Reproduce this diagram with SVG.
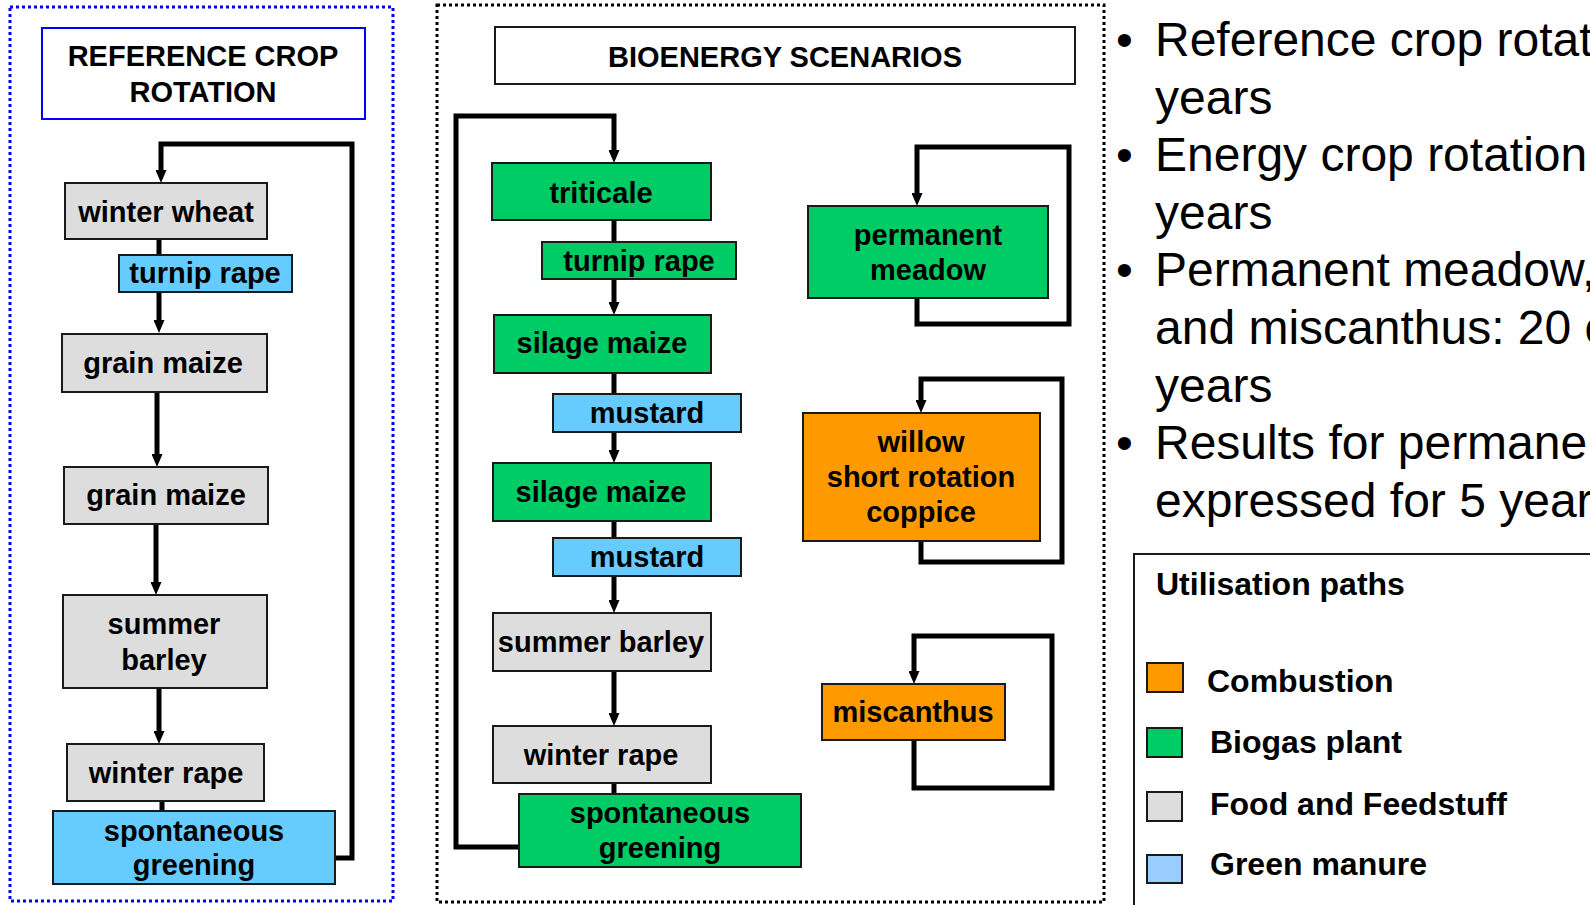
<svg xmlns="http://www.w3.org/2000/svg" width="1590" height="905" viewBox="0 0 1590 905">
<defs>
<style>
.box{stroke:#1a1a1a;stroke-width:2}
.gray{fill:#DDDDDD}
.green{fill:#00CC66}
.blue{fill:#66CCFF}
.orange{fill:#FF9900}
.lblue{fill:#99CCFF}
.t{font-family:"Liberation Sans",Arial,sans-serif;font-weight:bold;font-size:29px;fill:#000;text-anchor:middle}
.lg{font-family:"Liberation Sans",Arial,sans-serif;font-weight:bold;font-size:32px;fill:#000}
.bt{font-family:"Liberation Sans",Arial,sans-serif;font-size:48px;fill:#000}
.c{fill:none;stroke:#000;stroke-width:5;stroke-linejoin:miter;stroke-linecap:butt}
</style>
<marker id="ah" markerUnits="userSpaceOnUse" markerWidth="13" markerHeight="11" viewBox="0 0 13 11" refX="1" refY="5.5" orient="auto">
<path d="M0,0 L13,5.5 L0,11 Z" fill="#000"/>
</marker>
</defs>
<rect width="1590" height="905" fill="#fff"/>

<!-- panel frames -->
<rect id="ref-frame" x="10" y="7" width="383" height="894" fill="none" stroke="#0000FF" stroke-width="3" stroke-dasharray="3 3"/>
<rect id="bio-frame" x="437" y="5" width="667" height="897" fill="none" stroke="#000" stroke-width="3" stroke-dasharray="3 3"/>

<!-- connectors -->
<g id="connectors">
<path class="c" d="M159,239 V321" marker-end="url(#ah)"/>
<path class="c" d="M157,392 V455" marker-end="url(#ah)"/>
<path class="c" d="M156,524 V583" marker-end="url(#ah)"/>
<path class="c" d="M159,688 V732" marker-end="url(#ah)"/>
<path class="c" d="M162,801 V811"/>
<path class="c" d="M335,858 H352 V144 H161 V171" marker-end="url(#ah)"/>

<path class="c" d="M614,220 V303" marker-end="url(#ah)"/>
<path class="c" d="M614,373 V451" marker-end="url(#ah)"/>
<path class="c" d="M614,521 V601" marker-end="url(#ah)"/>
<path class="c" d="M614,671 V714" marker-end="url(#ah)"/>
<path class="c" d="M614,783 V794"/>
<path class="c" d="M519,847 H456 V116 H614 V151" marker-end="url(#ah)"/>
<path class="c" d="M917,298 V324 H1069 V147 H917 V194" marker-end="url(#ah)"/>
<path class="c" d="M921,541 V562 H1062 V379 H921 V401" marker-end="url(#ah)"/>
<path class="c" d="M914,740 V788 H1052 V636 H914 V672" marker-end="url(#ah)"/>
</g>

<!-- reference crop rotation -->
<g id="ref-title">
<rect x="42" y="28" width="323" height="91" fill="#fff" stroke="#0000FF" stroke-width="2"/>
<text class="t" x="203" y="66">REFERENCE CROP</text>
<text class="t" x="203" y="102">ROTATION</text>
</g>
<g id="ref-winter-wheat"><rect class="box gray" x="65" y="183" width="202" height="56"/><text class="t" x="166" y="222">winter wheat</text></g>
<g id="ref-turnip-rape"><rect class="box blue" x="119" y="255" width="173" height="37"/><text class="t" x="205" y="283">turnip rape</text></g>
<g id="ref-grain-maize-1"><rect class="box gray" x="62" y="334" width="205" height="58"/><text class="t" x="163" y="373">grain maize</text></g>
<g id="ref-grain-maize-2"><rect class="box gray" x="64" y="467" width="204" height="57"/><text class="t" x="166" y="505">grain maize</text></g>
<g id="ref-summer-barley"><rect class="box gray" x="63" y="595" width="204" height="93"/><text class="t" x="164" y="634">summer</text><text class="t" x="164" y="670">barley</text></g>
<g id="ref-winter-rape"><rect class="box gray" x="67" y="744" width="197" height="57"/><text class="t" x="166" y="783">winter rape</text></g>
<g id="ref-spontaneous-greening"><rect class="box blue" x="53" y="811" width="282" height="73"/><text class="t" x="194" y="841">spontaneous</text><text class="t" x="194" y="875">greening</text></g>

<!-- bioenergy scenarios -->
<g id="bio-title">
<rect class="box" x="495" y="27" width="580" height="57" fill="#fff"/>
<text class="t" x="785" y="67">BIOENERGY SCENARIOS</text>
</g>
<g id="bio-triticale"><rect class="box green" x="492" y="163" width="219" height="57"/><text class="t" x="601" y="203">triticale</text></g>
<g id="bio-turnip-rape"><rect class="box green" x="542" y="242" width="194" height="37"/><text class="t" x="639" y="271">turnip rape</text></g>
<g id="bio-silage-maize-1"><rect class="box green" x="494" y="315" width="217" height="58"/><text class="t" x="602" y="353">silage maize</text></g>
<g id="bio-mustard-1"><rect class="box blue" x="553" y="394" width="188" height="38"/><text class="t" x="647" y="423">mustard</text></g>
<g id="bio-silage-maize-2"><rect class="box green" x="493" y="463" width="218" height="58"/><text class="t" x="601" y="502">silage maize</text></g>
<g id="bio-mustard-2"><rect class="box blue" x="553" y="538" width="188" height="38"/><text class="t" x="647" y="567">mustard</text></g>
<g id="bio-summer-barley"><rect class="box gray" x="493" y="613" width="218" height="58"/><text class="t" x="601" y="652">summer barley</text></g>
<g id="bio-winter-rape"><rect class="box gray" x="493" y="726" width="218" height="57"/><text class="t" x="601" y="765">winter rape</text></g>
<g id="bio-spontaneous-greening"><rect class="box green" x="519" y="794" width="282" height="73"/><text class="t" x="660" y="823">spontaneous</text><text class="t" x="660" y="858">greening</text></g>
<g id="bio-permanent-meadow"><rect class="box green" x="808" y="206" width="240" height="92"/><text class="t" x="928" y="245">permanent</text><text class="t" x="928" y="280">meadow</text></g>
<g id="bio-willow"><rect class="box orange" x="803" y="413" width="237" height="128"/><text class="t" x="921" y="452">willow</text><text class="t" x="921" y="487">short rotation</text><text class="t" x="921" y="522">coppice</text></g>
<g id="bio-miscanthus"><rect class="box orange" x="822" y="684" width="183" height="56"/><text class="t" x="913" y="722">miscanthus</text></g>

<!-- bullet text -->
<g id="notes">
<text class="bt" x="1116" y="56">•</text>
<text class="bt" x="1155" y="56">Reference crop rotat</text>
<text class="bt" x="1155" y="113.6">years</text>
<text class="bt" x="1116" y="171.2">•</text>
<text class="bt" x="1155" y="171.2">Energy crop rotation</text>
<text class="bt" x="1155" y="228.8">years</text>
<text class="bt" x="1116" y="286.4">•</text>
<text class="bt" x="1155" y="286.4">Permanent meadow,</text>
<text class="bt" x="1155" y="344">and miscanthus: 20 o</text>
<text class="bt" x="1155" y="401.6">years</text>
<text class="bt" x="1116" y="459.2">•</text>
<text class="bt" x="1155" y="459.2">Results for permanen</text>
<text class="bt" x="1155" y="516.8">expressed for 5 year</text>
</g>

<!-- legend -->
<g id="legend">
<rect x="1134" y="554" width="480" height="400" fill="#fff" stroke="#1a1a1a" stroke-width="2"/>
<text class="lg" x="1156" y="595">Utilisation paths</text>
<rect class="box orange" x="1147" y="663" width="36" height="29"/>
<text class="lg" x="1207" y="692">Combustion</text>
<rect class="box green" x="1147" y="728" width="35" height="29"/>
<text class="lg" x="1210" y="753">Biogas plant</text>
<rect class="box gray" x="1147" y="792" width="35" height="29"/>
<text class="lg" x="1210" y="815">Food and Feedstuff</text>
<rect class="box lblue" x="1147" y="855" width="35" height="28"/>
<text class="lg" x="1210" y="875">Green manure</text>
</g>
</svg>
